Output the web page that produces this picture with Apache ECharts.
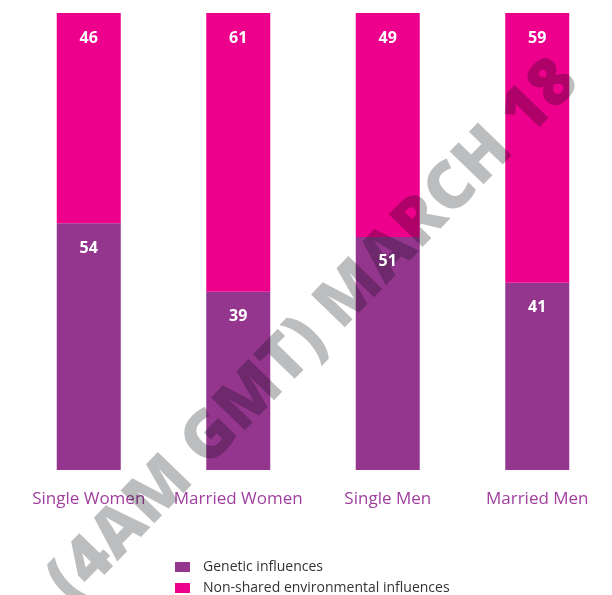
<!DOCTYPE html>
<html><head><meta charset="utf-8">
<script src="https://cdn.jsdelivr.net/npm/echarts@6/dist/echarts.min.js"></script>
<style>html,body{margin:0;padding:0;background:#fff}#c{width:612px;height:595px}</style>
</head><body><div id="c"></div>
<script>
const categories = ['Single Women', 'Married Women', 'Single Men', 'Married Men'];
const genetic = [54, 39, 51, 41];
const nonShared = [46, 61, 49, 59];
const seriesNames = ['Genetic influences', 'Non-shared environmental influences'];
const watermark = '(4AM GMT) MARCH 18';

const chart = echarts.init(document.getElementById('c'), null, {renderer: 'canvas'});
const labelStyle = {show: true, position: 'insideTop', distance: 17, color: '#fff', fontSize: 16, fontWeight: 'bold', fontFamily: 'Open Sans'};
const legendBase = {orient: 'vertical', left: 170, itemWidth: 15, itemHeight: 10,
    icon: 'rect', textStyle: {color: '#333', fontSize: 14, fontFamily: 'Open Sans', padding: [0,0,0,8]}};
chart.setOption({
  animation: false,
  grid: {left: 14, top: 13, width: 601, height: 457, containLabel: false},
  xAxis: {type: 'category', data: categories, axisLine: {show: false}, axisTick: {show: false},
    axisLabel: {color: '#a03f9e', fontSize: 17, fontFamily: 'Open Sans', margin: 21, interval: 0}},
  yAxis: {type: 'value', min: 0, max: 100, show: false, splitLine: {show: false}},
  legend: [
    Object.assign({}, legendBase, {top: 555, data: [seriesNames[0]]}),
    Object.assign({}, legendBase, {top: 576, data: [seriesNames[1]]})
  ],
  series: [
    {name: seriesNames[0], type: 'bar', stack: 'a', data: genetic, barWidth: 64, z: 2, itemStyle: {color: '#94368e'}},
    {name: seriesNames[1], type: 'bar', stack: 'a', data: nonShared, barWidth: 64, z: 2, itemStyle: {color: '#ec008c'}},
    // label layer drawn above the watermark, using the same values
    {name: 'labels-genetic', type: 'bar', stack: 'lbl', data: genetic, barWidth: 64, barGap: '-100%', z: 10, silent: true,
      itemStyle: {color: 'rgba(0,0,0,0)'}, label: labelStyle},
    {name: 'labels-nonshared', type: 'bar', stack: 'lbl', data: nonShared, barWidth: 64, barGap: '-100%', z: 10, silent: true,
      itemStyle: {color: 'rgba(0,0,0,0)'}, label: labelStyle}
  ],
  graphic: [{
    type: 'text', x: 314, y: 332, rotation: 0.80, silent: true, z: 5,
    style: {text: watermark, fill: 'rgba(4,6,12,0.265)', fontSize: 66, fontWeight: 800, fontFamily: 'Open Sans',
      align: 'center', verticalAlign: 'middle'}
  }]
});
</script></body></html>
